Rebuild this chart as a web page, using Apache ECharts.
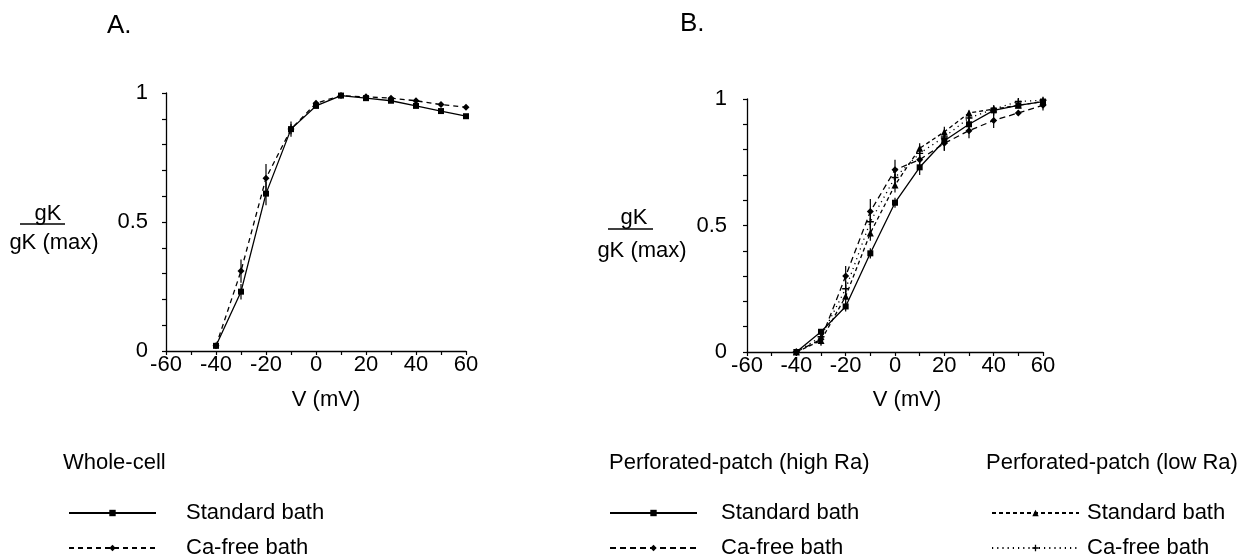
<!DOCTYPE html>
<html>
<head>
    <meta charset="utf-8"/>
    <title>gK / gK(max)</title>
    <script src="https://cdn.jsdelivr.net/npm/echarts@6/dist/echarts.min.js"></script>
    <style>
        html, body { margin: 0; padding: 0; background: #fff; }
        #chart { width: 1248px; height: 558px; }
    </style>
</head>
<body>
<div id="chart"></div>
<script>
    // test potentials (mV)
    var voltages = [-40, -30, -20, -10, 0, 10, 20, 30, 40, 50, 60];

    // A. whole-cell
    var wholeStd = [0.02, 0.23, 0.61, 0.86, 0.95, 0.99, 0.98, 0.97, 0.95, 0.93, 0.91];
    var wholeStdErr = [0, 0.03, 0.045, 0.02, 0.01, 0, 0, 0, 0, 0, 0];
    var wholeCa = [0.02, 0.31, 0.67, 0.86, 0.96, 0.99, 0.985, 0.98, 0.97, 0.955, 0.945];
    var wholeCaErr = [0, 0.045, 0.055, 0.03, 0.01, 0, 0, 0.005, 0.005, 0, 0];

    // B. perforated-patch, high Ra
    var highStd = [0, 0.08, 0.18, 0.39, 0.59, 0.73, 0.835, 0.90, 0.955, 0.975, 0.99];
    var highStdErr = [0, 0.01, 0.02, 0.02, 0.02, 0.03, 0.04, 0.03, 0.02, 0.01, 0.01];
    var highCa = [0, 0.05, 0.30, 0.555, 0.72, 0.76, 0.825, 0.875, 0.915, 0.945, 0.975];
    var highCaErr = [0, 0.02, 0.04, 0.05, 0.04, 0.02, 0.03, 0.03, 0.03, 0.01, 0.02];

    // B. perforated-patch, low Ra
    var lowStd = [0, 0.045, 0.22, 0.47, 0.66, 0.805, 0.87, 0.945, 0.96, 0.975, 0.99];
    var lowStdErr = [0, 0.02, 0.03, 0.03, 0.03, 0.02, 0.02, 0.01, 0.01, 0.01, 0.01];
    var lowCa = [0, 0.06, 0.25, 0.515, 0.69, 0.785, 0.85, 0.925, 0.96, 0.99, 0.995];
    var lowCaErr = [0, 0.01, 0.03, 0.03, 0.03, 0.02, 0.02, 0.02, 0.01, 0.01, 0.01];

    var xTicks = [-60, -40, -20, 0, 20, 40, 60];
    var yTicks = ['0', '0.5', '1'];

    var legendNames = {
        wcStd: 'Standard bath', wcCa: 'Ca-free bath',
        hiStd: 'Standard bath', hiCa: 'Ca-free bath',
        loStd: 'Standard bath', loCa: 'Ca-free bath'
    };

    var FONT = '"Liberation Sans", Arial, sans-serif';
    var PLUS = 'path://M4,0H6V4H10V6H6V10H4V6H0V4H4Z';

    var myChart = echarts.init(document.getElementById('chart'), null, {renderer: 'canvas'});

    function makeXAxis(gridIndex) {
        return {
            type: 'value', gridIndex: gridIndex, min: -60, max: 60, interval: 10,
            axisLine: {onZero: false, lineStyle: {color: '#000', width: 1.3}},
            axisTick: {length: 4, lineStyle: {color: '#000', width: 1.2}},
            splitLine: {show: false},
            axisLabel: {
                margin: 3, color: '#000', fontSize: 22, fontFamily: FONT,
                formatter: function (v) {
                    return xTicks.indexOf(v) >= 0 ? String(v) : '';
                }
            }
        };
    }

    function makeYAxis(gridIndex, margin) {
        return {
            type: 'value', gridIndex: gridIndex, min: 0, max: 1, interval: 0.1,
            axisLine: {onZero: false, lineStyle: {color: '#000', width: 1.3}},
            axisTick: {length: 4, lineStyle: {color: '#000', width: 1.2}},
            splitLine: {show: false},
            axisLabel: {
                margin: margin, color: '#000', fontSize: 22, fontFamily: FONT,
                formatter: function (v) {
                    var k = Math.round(v * 10);
                    if (k === 0) return yTicks[0];
                    if (k === 5) return yTicks[1];
                    if (k === 10) return yTicks[2];
                    return '';
                }
            }
        };
    }

    function lineSeries(name, axis, values, symbol, size, dash) {
        return {
            name: name, type: 'line', xAxisIndex: axis, yAxisIndex: axis,
            data: voltages.map(function (v, i) { return [v, values[i]]; }),
            symbol: symbol, symbolSize: size,
            lineStyle: {color: '#000', width: 1.3, type: dash},
            itemStyle: {color: '#000'},
            z: 3, animation: false
        };
    }

    function errSeries(axis, values, errs) {
        var d = [];
        voltages.forEach(function (v, i) {
            if (errs[i] > 0) d.push([v, values[i] - errs[i], values[i] + errs[i]]);
        });
        return {
            type: 'custom', xAxisIndex: axis, yAxisIndex: axis, data: d, z: 2,
            animation: false,
            renderItem: function (params, api) {
                var p1 = api.coord([api.value(0), api.value(1)]);
                var p2 = api.coord([api.value(0), api.value(2)]);
                return {
                    type: 'line',
                    shape: {x1: p1[0], y1: p1[1], x2: p2[0], y2: p2[1]},
                    style: {stroke: '#000', lineWidth: 1.2}
                };
            }
        };
    }

    // one legend per entry so nothing wraps
    function legendItem(left, top, name, textPad) {
        return {
            left: left, top: top, orient: 'horizontal', padding: 0,
            itemWidth: 87, itemHeight: 8, selectedMode: false,
            data: [name],
            formatter: function (n) { return legendNames[n]; },
            textStyle: {fontSize: 22, lineHeight: 22, color: '#000', fontFamily: FONT, padding: [0, 0, 0, textPad]}
        };
    }

    function txt(x, y, s, size, align) {
        return {
            type: 'text', x: x, y: y,
            style: {text: s, fontSize: size || 22, fontFamily: FONT, fill: '#000',
                align: align || 'left', verticalAlign: 'middle'}
        };
    }

    var option = {
        backgroundColor: '#fff',
        animation: false,
        grid: [
            {left: 166, right: 782, top: 93, bottom: 207},
            {left: 747, right: 205, top: 99, bottom: 206}
        ],
        xAxis: [makeXAxis(0), makeXAxis(1)],
        yAxis: [makeYAxis(0, 18), makeYAxis(1, 20)],
        legend: [
            legendItem(68, 502, 'wcStd', 25),
            legendItem(68, 537, 'wcCa', 25),
            legendItem(609, 502, 'hiStd', 19),
            legendItem(609, 537, 'hiCa', 19),
            legendItem(991, 502, 'loStd', 3),
            legendItem(991, 537, 'loCa', 3)
        ],
        series: [
            errSeries(0, wholeStd, wholeStdErr),
            errSeries(0, wholeCa, wholeCaErr),
            lineSeries('wcStd', 0, wholeStd, 'rect', 6, 'solid'),
            lineSeries('wcCa', 0, wholeCa, 'diamond', 7, [5, 4]),

            errSeries(1, highStd, highStdErr),
            errSeries(1, highCa, highCaErr),
            errSeries(1, lowStd, lowStdErr),
            errSeries(1, lowCa, lowCaErr),
            lineSeries('hiStd', 1, highStd, 'rect', 6, 'solid'),
            lineSeries('hiCa', 1, highCa, 'diamond', 7, [6, 4]),
            lineSeries('loStd', 1, lowStd, 'triangle', 7, [4, 3]),
            lineSeries('loCa', 1, lowCa, PLUS, 7, [1.2, 4])
        ],
        graphic: [
            txt(107, 26, 'A.', 26),
            txt(680, 24, 'B.', 26),
            // y-axis names
            txt(48, 214, 'gK', 22, 'center'),
            {type: 'line', shape: {x1: 20, y1: 224, x2: 65, y2: 224}, style: {stroke: '#000', lineWidth: 1.3}},
            txt(54, 243, 'gK (max)', 22, 'center'),
            txt(634, 218, 'gK', 22, 'center'),
            {type: 'line', shape: {x1: 608, y1: 229, x2: 653, y2: 229}, style: {stroke: '#000', lineWidth: 1.3}},
            txt(642, 251, 'gK (max)', 22, 'center'),
            // x-axis names
            txt(326, 400, 'V (mV)', 22, 'center'),
            txt(907, 400, 'V (mV)', 22, 'center'),
            // legend headings
            txt(63, 463, 'Whole-cell', 22),
            txt(609, 463, 'Perforated-patch (high Ra)', 22),
            txt(986, 463, 'Perforated-patch (low Ra)', 22)
        ]
    };
    myChart.setOption(option);

    window.onresize = function () {
        myChart.resize();
    };
</script>
</body>
</html>
